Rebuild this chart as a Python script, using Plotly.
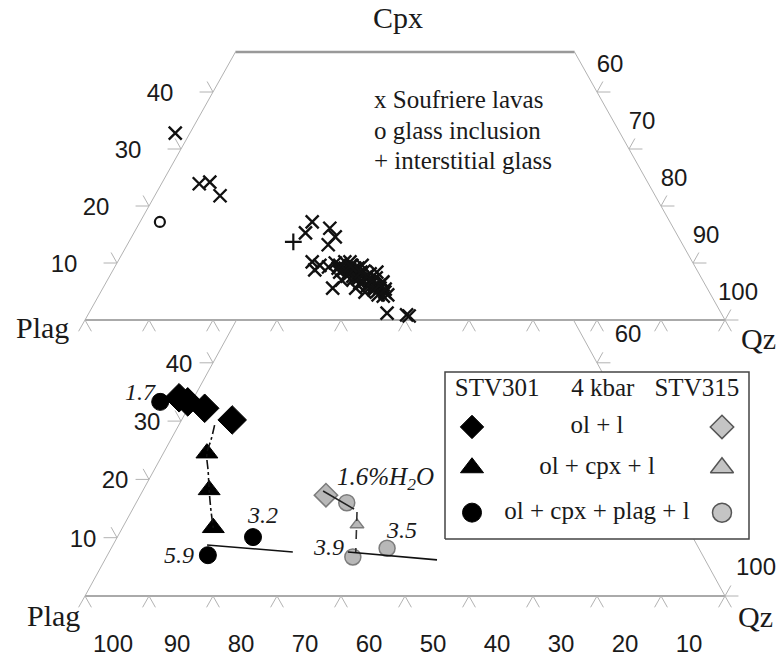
import plotly.graph_objects as go

# ---------------- data (ternary compositions, % ; Plag = 100 - Qz - Cpx) ----------------
# Upper diagram: Cpx - Plag - Qz
lava_qz = [-2.3, 5.9, 7.4, 10.2, 26.8, 26.9, 30.2, 31.8, 31.4, 30.4, 31.5, 33.4, 34.1, 35.9,
           41.4, 43.2, 45.1, 46.6, 49.8, 50.3,
           35.0, 36.1, 37.0, 38.0, 39.0, 40.1, 41.1, 42.2, 43.3, 44.4, 35.5, 36.9, 38.1, 39.3,
           40.5, 41.8, 43.2, 35.6, 37.1, 38.4, 39.7, 41.1, 42.5, 36.3, 38.5, 36.6, 39.5, 41.3,
           43.6, 31.9,
           35.9, 37.0, 38.0, 39.1, 40.1, 41.2, 42.2, 43.2, 44.5, 37.6, 38.9, 40.2, 41.5, 42.9,
           44.2, 35.0, 36.7]
lava_cpx = [32.8, 23.9, 24.2, 21.8, 15.3, 17.2, 16.1, 14.6, 13.2, 10.2, 8.8, 9.3, 10.0, 5.6,
            8.4, 6.7, 4.4, 1.2, 0.9, 0.7,
            9.6, 9.1, 8.8, 8.4, 7.9, 7.4, 6.8, 6.1, 5.6, 4.9, 10.2, 9.6, 9.1, 8.6,
            8.1, 7.4, 6.5, 8.4, 7.7, 7.2, 6.5, 6.0, 5.3, 10.2, 9.6, 7.0, 5.6, 4.9,
            4.4, 9.6,
            8.8, 8.3, 7.7, 7.2, 6.7, 6.1, 5.6, 5.1, 4.2, 9.1, 8.4, 7.7, 7.0, 6.1,
            5.4, 9.1, 9.5]
incl_qz, incl_cpx = [3.1], [17.2]
inter_qz, inter_cpx = [25.7], [13.7]

# Lower diagram (4 kbar experiments)
s301_ol_qz, s301_ol_c = [-2.3, -0.6, 2.6, 7.9], [34.0, 33.3, 32.2, 30.2]
s301_cpx_qz, s301_cpx_c = [6.8, 10.3, 14.2], [24.5, 18.2, 11.7]
s301_plag_qz, s301_plag_c = [-4.9, 21.2, 15.7], [33.3, 10.1, 7.0]
s315_ol_qz, s315_ol_c = [29.0], [17.3]
s315_cpx_qz, s315_cpx_c = [36.4], [12.2]
s315_plag_qz, s315_plag_c = [32.9, 38.5, 43.1], [16.0, 6.7, 8.2]

s301_trend_qz = [5.6, 6.3, 6.8, 8.6, 10.3, 12.3, 14.2]
s301_trend_c = [29.3, 26.8, 24.5, 21.3, 18.2, 14.75, 11.7]
s301_cot_qz, s301_cot_c = [14.7, 28.7], [8.75, 7.55]
s315_ol_line_qz, s315_ol_line_c = [28.2, 34.6], [18.0, 14.9]
s315_trend_qz, s315_trend_c = [35.3, 38.6], [14.4, 7.4]
s315_cot_qz, s315_cot_c = [37.3, 51.9], [7.55, 6.2]

h2o_labels = ["1.7", "3.2", "5.9", "3.9", "3.5"]

left_ticks = [10, 20, 30, 40]
right_ticks = [60, 70, 80, 90, 100]          # Qz along Cpx-Qz edge
right_labels_lower = [60, 100]               # others are hidden behind the key box
bottom_ticks = [100, 90, 80, 70, 60, 50, 40, 30, 20, 10]   # Plag
CUT_UP, CUT_LO = 47.0, 47.3

def tx(q, c):
    return [a + b / 2.0 for a, b in zip(q, c)]

fig = go.Figure()
GRAY = '#b2b2b2'
SERIF = 'Liberation Serif, Times New Roman, serif'
SANS = 'Liberation Sans, Arial, sans-serif'

def line(xs, ys, ya, color=GRAY, width=1, dash=None, shape='linear'):
    fig.add_trace(go.Scatter(x=xs, y=ys, yaxis=ya, mode='lines', line_shape=shape,
                             line=dict(color=color, width=width, dash=dash),
                             hoverinfo='skip', showlegend=False))

def text(xs, ys, ya, txt, size, family, color='#1a1a1a'):
    fig.add_trace(go.Scatter(x=xs, y=ys, yaxis=ya, mode='text', text=txt,
                             textposition='middle center',
                             textfont=dict(size=size, family=family, color=color),
                             hoverinfo='skip', showlegend=False))

def frame(ya, cut, top, sc):
    line([0, cut / 2], [0, cut], ya)
    line([100, 100 - cut / 2], [0, cut], ya)
    line([0, 100], [0, 0], ya, color='#aaaaaa', width=2)
    if top:
        line([cut / 2, 100 - cut / 2], [cut, cut], ya, color='#999999', width=2.5)
    xs, ys = [], []
    for c in left_ticks:
        p = (c / 2, c)
        xs += [p[0] - 2.1, p[0], p[0] - 0.92, None]
        ys += [p[1], p[1], p[1] + 1.84 * sc, None]
    for q in right_ticks:
        c = 100 - q
        p = (100 - c / 2, c)
        xs += [p[0] + 2.1, p[0], p[0] + 0.92, None]
        ys += [p[1], p[1], p[1] + 1.84 * sc, None]
    for k in range(0, 11):
        xs += [10 * k - 1.0, 10 * k, 10 * k + 1.0, None]
        ys += [-1.98 * sc, 0, -1.98 * sc, None]
    line(xs, ys, ya)

def markers(q, c, ya, symbol, size, style):
    fig.add_trace(go.Scatter(x=tx(q, c), y=c, yaxis=ya, mode='markers',
                             marker=dict(symbol=symbol, size=size, **style),
                             hoverinfo='skip', showlegend=False))

# ---------------- upper diagram ----------------
frame('y', CUT_UP, True, 1.0)
text([c / 2 - 8.28 for c in left_ticks], [c - 0.53 for c in left_ticks], 'y',
     [str(c) for c in left_ticks], 24, SANS)
text([100 - (100 - q) / 2 + 2.03 for q in right_ticks], [(100 - q) + 4.56 for q in right_ticks], 'y',
     [str(q) for q in right_ticks], 24, SANS)
markers(lava_qz, lava_cpx, 'y', 'x-thin', 13, dict(line=dict(color='#111', width=2.4)))
markers(incl_qz, incl_cpx, 'y', 'circle-open', 10, dict(color='#111', line=dict(color='#111', width=2.2)))
markers(inter_qz, inter_cpx, 'y', 'cross-thin', 12, dict(line=dict(color='#111', width=2.2)))

# ---------------- lower diagram ----------------
frame('y2', CUT_LO, False, 0.98)
text([c / 2 - 5.31 for c in left_ticks], [c - 0.51 for c in left_ticks], 'y2',
     [str(c) for c in left_ticks], 24, SANS)
text([100 - (100 - q) / 2 + 4.84 for q in right_labels_lower],
     [(100 - q) + 4.63 for q in right_labels_lower], 'y2',
     [str(q) for q in right_labels_lower], 24, SANS)
text([100 - p + 4.375 for p in bottom_ticks], [-8.58] * len(bottom_ticks), 'y2',
     [str(p) for p in bottom_ticks], 24, SANS)

BLACK = dict(color='#000000', line=dict(color='#000000', width=1))
GREYM = dict(color='#b8b8b8', line=dict(color='#7c7c7c', width=1.5))

markers(s301_ol_qz, s301_ol_c, 'y2', 'diamond', 22, BLACK)
markers(s301_cpx_qz, s301_cpx_c, 'y2', 'triangle-up', 19, BLACK)
markers(s301_plag_qz, s301_plag_c, 'y2', 'circle', 17, BLACK)
markers(s315_ol_qz, s315_ol_c, 'y2', 'diamond', 18, GREYM)
markers(s315_cpx_qz, s315_cpx_c, 'y2', 'triangle-up', 12, GREYM)
markers(s315_plag_qz, s315_plag_c, 'y2', 'circle', 16, GREYM)

line(tx(s301_trend_qz, s301_trend_c), s301_trend_c, 'y2', color='#111', width=1.6, dash='dashdot', shape='spline')
line(tx(s301_cot_qz, s301_cot_c), s301_cot_c, 'y2', color='#111', width=1.6)
line(tx(s315_ol_line_qz, s315_ol_line_c), s315_ol_line_c, 'y2', color='#222', width=1.6)
line(tx(s315_trend_qz, s315_trend_c), s315_trend_c, 'y2', color='#333', width=1.6, dash='dash')
line(tx(s315_cot_qz, s315_cot_c), s315_cot_c, 'y2', color='#111', width=1.6)

# key box (white, hides the edge behind it)
bx0, bx1, by0, by1 = 56.25, 103.75, 9.78, 38.42
fig.add_trace(go.Scatter(x=[bx0, bx1, bx1, bx0, bx0], y=[by0, by0, by1, by1, by0], yaxis='y2',
                         mode='lines', fill='toself', fillcolor='white',
                         line=dict(color='#444', width=1.5), hoverinfo='skip', showlegend=False))
text([64.4, 80.9, 95.6], [35.3] * 3, 'y2', ['STV301', '4 kbar', 'STV315'], 25, SERIF)
rows_y = [29.0, 22.0, 14.3]
text([80.0] * 3, rows_y, 'y2', ['ol + l', 'ol + cpx + l', 'ol + cpx + plag + l'], 25, SERIF)
for sym, yy, sz in zip(['diamond', 'triangle-up', 'circle'], rows_y, [18, 20, 19]):
    fig.add_trace(go.Scatter(x=[60.47], y=[yy], yaxis='y2', mode='markers',
                             marker=dict(symbol=sym, size=sz, **BLACK), hoverinfo='skip', showlegend=False))
    fig.add_trace(go.Scatter(x=[99.53], y=[yy], yaxis='y2', mode='markers',
                             marker=dict(symbol=sym, size=sz, color='#c4c4c4', line=dict(color='#555', width=1.5)),
                             hoverinfo='skip', showlegend=False))

# ---------------- annotations ----------------
ann = []
def note(x, y, yref, s, size, family, italic=False, xanchor='center'):
    ann.append(dict(x=x, y=y, xref='x', yref=yref, text=s, showarrow=False, xanchor=xanchor,
                    yanchor='middle', font=dict(size=size, family=family, color='#1a1a1a',
                                                style='italic' if italic else 'normal')))

note(48.9, 53.0, 'y', 'Cpx', 30, SERIF)
note(-6.6, -1.4, 'y', 'Plag', 30, SERIF)
note(105.2, -3.2, 'y', 'Qz', 30, SERIF)
note(-5.0, -3.3, 'y2', 'Plag', 30, SERIF)
note(104.7, -3.6, 'y2', 'Qz', 30, SERIF)
note(44.8, 38.6, 'y', 'x Soufriere lavas', 25, SERIF, xanchor='left')
note(44.8, 33.2, 'y', 'o glass inclusion', 25, SERIF, xanchor='left')
note(44.8, 28.0, 'y', '+ interstitial glass', 25, SERIF, xanchor='left')

lab_pos = [(8.6, 35.0), (27.8, 13.9), (14.7, 7.0), (38.0, 8.4), (49.5, 11.3)]
for s, (xx, yy) in zip(h2o_labels, lab_pos):
    note(xx, yy, 'y2', s, 24, SERIF, italic=True)
note(39.0, 20.2, 'y2', '1.6%H<sub>2</sub>O', 25, SERIF, italic=True, xanchor='left')

fig.update_layout(
    width=783, height=663, autosize=False,
    margin=dict(l=0, r=0, t=0, b=0),
    paper_bgcolor='white', plot_bgcolor='white',
    xaxis=dict(range=[-85 / 6.4, 698 / 6.4], visible=False, fixedrange=True),
    yaxis=dict(range=[-343 / 5.7, 320 / 5.7], visible=False, fixedrange=True),
    yaxis2=dict(range=[-67 / 5.83, 596 / 5.83], visible=False, overlaying='y', fixedrange=True),
    annotations=ann, showlegend=False,
)

fig.write_html("out.html", config={'displayModeBar': False},
               post_script="document.body.style.margin='0';")
